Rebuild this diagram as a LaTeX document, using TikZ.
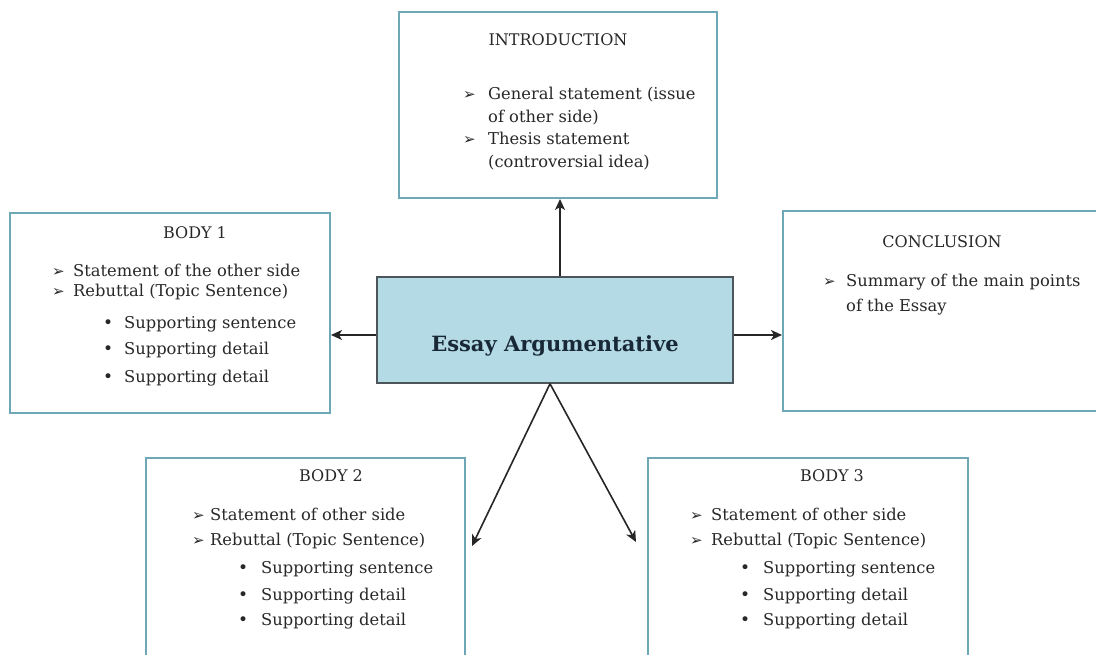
\documentclass[tikz,border=0pt]{standalone}
\usepackage{fontspec}
\setmainfont{DejaVu Serif}
\newfontfamily\symfont{DejaVu Sans}
\usetikzlibrary{arrows.meta}
\definecolor{boxline}{RGB}{110,168,182}
\definecolor{ctrfill}{RGB}{180,218,230}
\definecolor{ctrline}{RGB}{75,85,90}
\definecolor{txtc}{RGB}{40,40,40}
\definecolor{ctrtxt}{RGB}{25,40,55}
\newcommand{\arrbul}[1]{\makebox[#1][l]{\symfont\bfseries\fontsize{15}{15}\selectfont ➢}}
\newcommand{\dotbul}[1]{\makebox[#1][l]{\fontsize{17}{17}\selectfont •}}
\begin{document}
\begin{tikzpicture}[x=1pt,y=-1pt,
  box/.style={draw=boxline, line width=2pt, fill=white, inner sep=0, minimum width=#1},
  ctrbox/.style={draw=ctrline, line width=1.5pt, fill=ctrfill, inner sep=0},
  ln/.style={inner sep=0, anchor=base west, text=txtc, font=\fontsize{16.3}{20}\selectfont},
  ttl/.style={inner sep=0, anchor=base, text=txtc, font=\fontsize{16}{20}\selectfont},
  arr/.style={-{Stealth[length=11pt,width=10pt,inset=3pt]}, line width=1.6pt, draw=black!85}]
\clip (0,0) rectangle (1096,655);
\fill[white] (0,0) rectangle (1096,655);

% boxes
\node[box=318pt, minimum height=186pt] (intro) at (558,105) {};
\node[box=320pt, minimum height=200pt] (b1) at (170,313) {};
\node[ctrbox, minimum width=356pt, minimum height=106pt] (ctr) at (555,330) {};
\node[box=327pt, minimum height=200pt] (concl) at (946.5,311) {};
\node[box=319pt, minimum height=212pt] (b2) at (305.5,564) {};
\node[box=320pt, minimum height=212pt] (b3) at (808,564) {};

% centre title
\node[inner sep=0, anchor=base, text=ctrtxt, font=\fontsize{21}{24}\selectfont\bfseries] (ctrt) at (555,352) {Essay Argumentative};

% introduction
\node[ttl] (introt) at (558,46) {INTRODUCTION};
\node[ln] (i1) at (463,100) {\arrbul{25pt}General statement (issue};
\node[ln] (i2) at (488,123) {of other side)};
\node[ln] (i3) at (463,145) {\arrbul{25pt}Thesis statement};
\node[ln] (i4) at (488,168) {(controversial idea)};

% body 1
\node[ttl] (b1t) at (195,239) {BODY 1};
\node[ln] (b1a) at (52,277) {\arrbul{21pt}Statement of the other side};
\node[ln] (b1b) at (52,297) {\arrbul{21pt}Rebuttal (Topic Sentence)};
\node[ln] (b1c) at (103,328) {\dotbul{21pt}Supporting sentence};
\node[ln] (b1d) at (103,355) {\dotbul{21pt}Supporting detail};
\node[ln] (b1e) at (103,382) {\dotbul{21pt}Supporting detail};

% conclusion
\node[ttl] (conclt) at (942,248) {CONCLUSION};
\node[ln] (c1) at (823,287) {\arrbul{23pt}Summary of the main points};
\node[ln] (c2) at (846,312) {of the Essay};

% body 2
\node[ttl] (b2t) at (331,481) {BODY 2};
\node[ln] (b2a) at (192,520) {\arrbul{18pt}Statement of other side};
\node[ln] (b2b) at (192,545) {\arrbul{18pt}Rebuttal (Topic Sentence)};
\node[ln] (b2c) at (238,573) {\dotbul{23pt}Supporting sentence};
\node[ln] (b2d) at (238,600) {\dotbul{23pt}Supporting detail};
\node[ln] (b2e) at (238,625) {\dotbul{23pt}Supporting detail};

% body 3
\node[ttl] (b3t) at (832,481) {BODY 3};
\node[ln] (b3a) at (690,520) {\arrbul{21pt}Statement of other side};
\node[ln] (b3b) at (690,545) {\arrbul{21pt}Rebuttal (Topic Sentence)};
\node[ln] (b3c) at (740,573) {\dotbul{23pt}Supporting sentence};
\node[ln] (b3d) at (740,600) {\dotbul{23pt}Supporting detail};
\node[ln] (b3e) at (740,625) {\dotbul{23pt}Supporting detail};

% connectors
\coordinate (tipb2) at (472,546);
\coordinate (tipb3) at (636,542);
\draw[arr] ([xshift=5pt]ctr.north) -- ([xshift=5pt]ctr.north |- intro.south);
\draw[arr] ([yshift=-5pt]ctr.west) -- ([yshift=-5pt]ctr.west -| b1.east);
\draw[arr] ([yshift=-5pt]ctr.east) -- ([yshift=-5pt]ctr.east -| concl.west);
\draw[arr] ([xshift=-5pt]ctr.south) -- (tipb2);
\draw[arr] ([xshift=-5pt]ctr.south) -- (tipb3);
\end{tikzpicture}
\end{document}
